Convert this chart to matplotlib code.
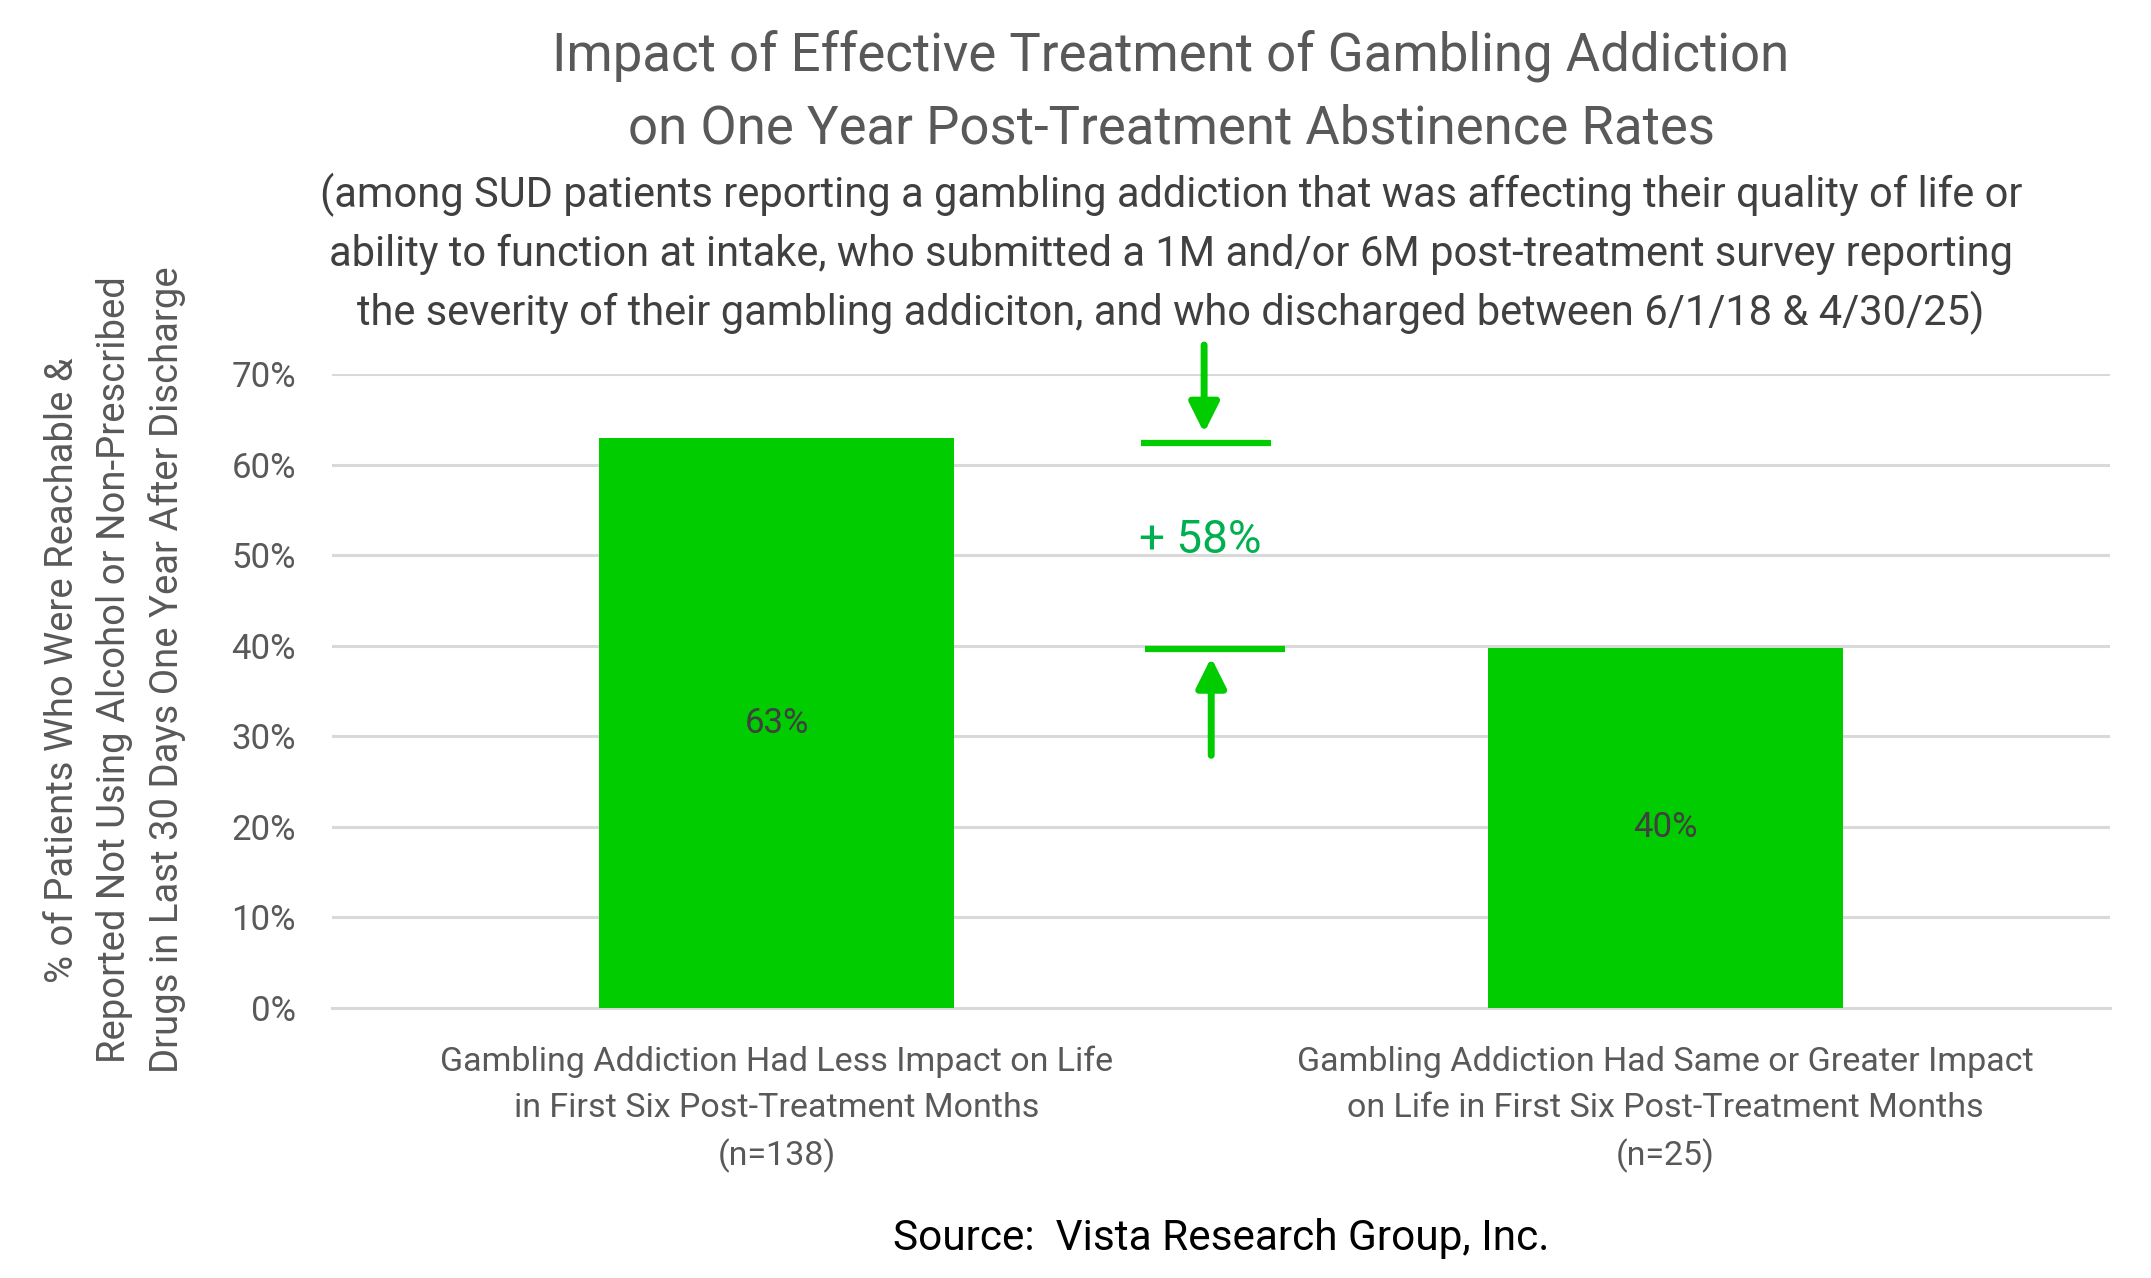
import matplotlib.pyplot as plt
from matplotlib.ticker import PercentFormatter

# chart data
categories = [
    ["Gambling Addiction Had Less Impact on Life",
     "in First Six Post-Treatment Months",
     "(n=138)"],
    ["Gambling Addiction Had Same or Greater Impact",
     "on Life in First Six Post-Treatment Months",
     "(n=25)"],
]
values = [0.629, 0.398]
y_ticks = [0.0, 0.1, 0.2, 0.3, 0.4, 0.5, 0.6, 0.7]

title_lines = [
    "Impact of Effective Treatment of Gambling Addiction",
    "on One Year Post-Treatment Abstinence Rates",
]
subtitle_lines = [
    "(among SUD patients reporting a gambling addiction that was affecting their quality of life or",
    "ability to function at intake, who submitted a 1M and/or 6M post-treatment survey reporting",
    "the severity of their gambling addiciton, and who discharged between 6/1/18 & 4/30/25)",
]
ylabel_lines = [
    "% of Patients Who Were Reachable &",
    "Reported Not Using Alcohol or Non-Prescribed",
    "Drugs in Last 30 Days One Year After Discharge",
]
source_text = "Source:  Vista Research Group, Inc."

BAR_GREEN = "#00CC00"
NOTE_GREEN = "#00B050"
GRID = "#D9D9D9"
GRAY = "#595959"

plt.rcParams["font.family"] = ["Roboto", "DejaVu Sans"]

W, H = 2151, 1278
fig = plt.figure(figsize=(W / 100, H / 100), dpi=100)
ax = fig.add_axes([332 / W, 1 - 1008 / H, (2110 - 332) / W, (1008 - 374) / H])

x = list(range(len(values)))
ax.bar(x, values, width=0.4, color=BAR_GREEN, zorder=3)
ax.set_xlim(-0.5, len(values) - 0.5)
ax.set_ylim(0, 0.7)
ax.set_yticks(y_ticks)
ax.yaxis.set_major_formatter(PercentFormatter(1.0, decimals=0))
ax.yaxis.grid(True, color=GRID, lw=2.2)
ax.set_axisbelow(True)
for side in ["left", "right", "top"]:
    ax.spines[side].set_visible(False)
ax.spines["bottom"].set_color(GRID)
ax.spines["bottom"].set_linewidth(2.2)
ax.set_xticks([])
ax.tick_params(axis="y", length=0, pad=26, labelsize=25, labelcolor=GRAY)

# value labels in middle of bars
for xi, v in zip(x, values):
    ax.text(xi, v / 2, f"{v:.0%}", ha="center", va="center",
            fontsize=25, color="#404040", zorder=4)

# category labels below axis
for xi, lines in zip(x, categories):
    for line, off in zip(lines, [45, 78.5, 113]):
        ax.annotate(line, xy=(xi, 0), xycoords=("data", "axes fraction"),
                    xytext=(0, -off), textcoords="offset points",
                    ha="center", va="baseline", fontsize=24.5, color=GRAY)

# difference marker between the two bars
gain = values[0] / values[1] - 1
ax.plot([0.41, 0.556], [values[0] - 0.005, values[0] - 0.005],
        color=BAR_GREEN, lw=4.5, solid_capstyle="butt", zorder=4)
ax.plot([0.415, 0.572], [values[1] - 0.002, values[1] - 0.002],
        color=BAR_GREEN, lw=4.5, solid_capstyle="butt", zorder=4)
ax.annotate("", xy=(0.481, values[0] + 0.006), xytext=(0.481, 0.732),
            arrowprops=dict(arrowstyle="-|>", color=BAR_GREEN, lw=5,
                            mutation_scale=45, shrinkA=0, shrinkB=0),
            annotation_clip=False, zorder=4)
ax.annotate("", xy=(0.489, values[1] - 0.011), xytext=(0.489, 0.279),
            arrowprops=dict(arrowstyle="-|>", color=BAR_GREEN, lw=5,
                            mutation_scale=45, shrinkA=0, shrinkB=0),
            annotation_clip=False, zorder=4)
ax.text(0.477, 0.5166, f"+ {gain:.0%}", ha="center", va="center",
        fontsize=33, color=NOTE_GREEN, zorder=4)

# title and subtitle
for line, base in zip(title_lines, [70, 143]):
    fig.text(1171 / W, 1 - base / H, line, ha="center", va="baseline",
             fontsize=38, color=GRAY)
for line, base in zip(subtitle_lines, [207, 266, 325]):
    fig.text(1171 / W, 1 - base / H, line, ha="center", va="baseline",
             fontsize=30, color="#404040")

# y axis title, three rotated lines
for line, base in zip(ylabel_lines, [73, 125, 178]):
    fig.text(base / W, 1 - 670 / H, line, rotation=90, rotation_mode="anchor",
             ha="center", va="baseline", fontsize=27.5, color=GRAY)

fig.text(1221 / W, 1 - 1250 / H, source_text, ha="center", va="baseline",
         fontsize=30.5, color="black")

fig.savefig("out.png", dpi=100)
